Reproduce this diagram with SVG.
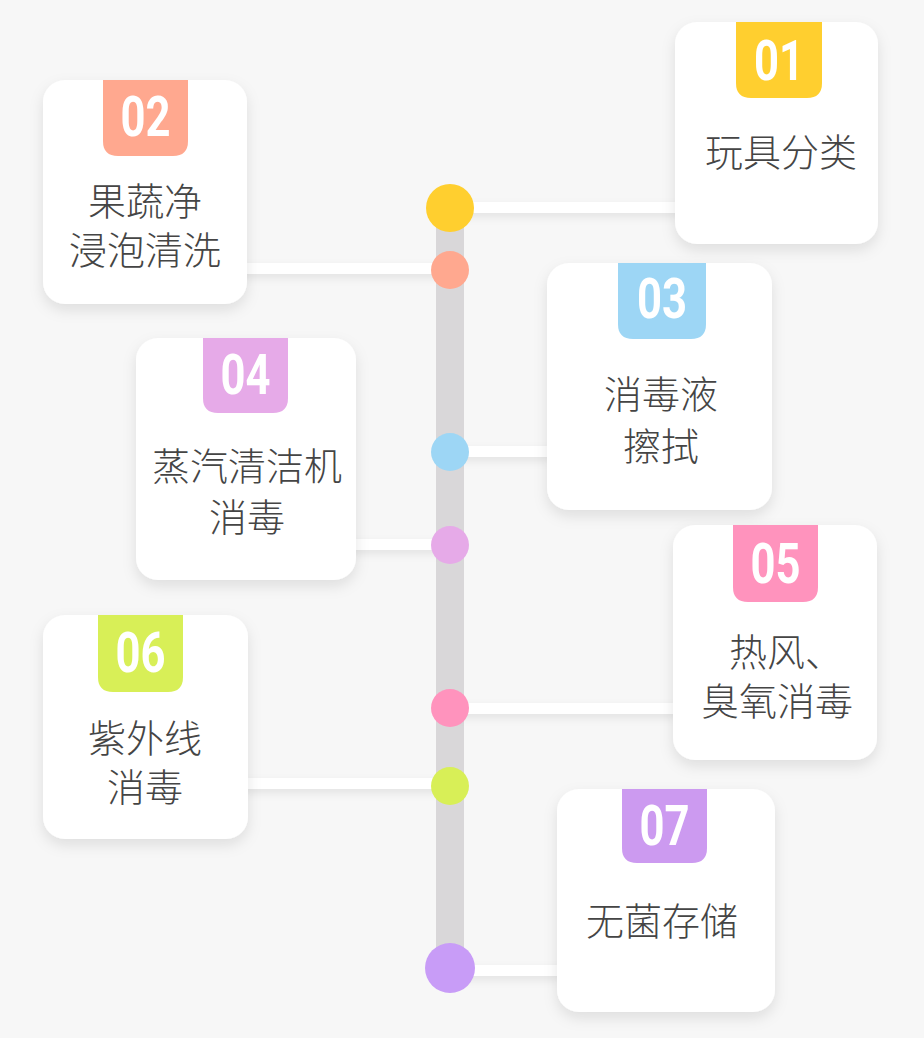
<svg xmlns="http://www.w3.org/2000/svg" width="924" height="1038" viewBox="0 0 924 1038">
<defs>
<filter id="sh" x="-20%" y="-20%" width="140%" height="140%">
<feDropShadow dx="0" dy="6" stdDeviation="7" flood-color="#000" flood-opacity="0.10"/>
</filter>
<filter id="lsh" x="-10%" y="-100%" width="120%" height="400%">
<feDropShadow dx="0" dy="4" stdDeviation="4" flood-color="#000" flood-opacity="0.08"/>
</filter>
<style>
.card{fill:#ffffff;filter:url(#sh)}
.lbl{font-family:"Noto Sans CJK SC","Noto Sans",sans-serif;font-size:38px;font-weight:300;fill:#454545;text-anchor:middle}
.num{font-family:Roboto,"Liberation Sans",sans-serif;font-weight:bold;font-size:56px;fill:#ffffff;text-anchor:middle}
.conn{fill:#ffffff;filter:url(#lsh)}
</style>
</defs>
<rect width="924" height="1038" fill="#f7f7f7"/>
<rect x="436" y="207" width="28" height="761" fill="#d9d7d9"/>
<g id="connectors">
<rect class="conn" x="450" y="202" width="230" height="11"/>
<rect class="conn" x="240" y="263" width="210" height="11"/>
<rect class="conn" x="450" y="446" width="102" height="11"/>
<rect class="conn" x="350" y="539" width="100" height="11"/>
<rect class="conn" x="450" y="703" width="228" height="11"/>
<rect class="conn" x="242" y="778" width="208" height="11"/>
<rect class="conn" x="450" y="965" width="112" height="11"/>
</g>
<g id="dots">
<circle cx="450" cy="208" r="24" fill="#ffcf2f"/>
<circle cx="450" cy="270" r="19" fill="#ffa88f"/>
<circle cx="450" cy="452" r="19" fill="#9dd6f5"/>
<circle cx="450" cy="545" r="19" fill="#e6aae8"/>
<circle cx="450" cy="708" r="19" fill="#ff93bd"/>
<circle cx="450" cy="786" r="19" fill="#d8ef57"/>
<circle cx="450" cy="968" r="25" fill="#c89cf7"/>
</g>
<g id="node01">
<rect class="card" x="675" y="22" width="203" height="222" rx="22"/>
<path d="M736 22 H822 V83 Q822 98 807 98 H751 Q736 98 736 83 Z" fill="#ffcf2f"/>
<text class="num" x="779" y="80" textLength="50" lengthAdjust="spacingAndGlyphs">01</text>
<text class="lbl" x="781" y="166">玩具分类</text>
</g>
<g id="node02">
<rect class="card" x="43" y="80" width="204" height="224" rx="22"/>
<path d="M103 80 H188 V141 Q188 156 173 156 H118 Q103 156 103 141 Z" fill="#ffa88f"/>
<text class="num" x="145.5" y="136" textLength="50" lengthAdjust="spacingAndGlyphs">02</text>
<text class="lbl" x="145" y="215">果蔬净</text>
<text class="lbl" x="145" y="264">浸泡清洗</text>
</g>
<g id="node03">
<rect class="card" x="547" y="263" width="225" height="247" rx="22"/>
<path d="M618 263 H706 V324 Q706 339 691 339 H633 Q618 339 618 324 Z" fill="#9dd6f5"/>
<text class="num" x="662" y="318" textLength="50" lengthAdjust="spacingAndGlyphs">03</text>
<text class="lbl" x="661" y="408">消毒液</text>
<text class="lbl" x="661" y="460">擦拭</text>
</g>
<g id="node04">
<rect class="card" x="136" y="338" width="220" height="242" rx="22"/>
<path d="M203 338 H288 V398 Q288 413 273 413 H218 Q203 413 203 398 Z" fill="#e6aae8"/>
<text class="num" x="245.5" y="394" textLength="50" lengthAdjust="spacingAndGlyphs">04</text>
<text class="lbl" x="247" y="480">蒸汽清洁机</text>
<text class="lbl" x="247" y="531">消毒</text>
</g>
<g id="node05">
<rect class="card" x="673" y="525" width="204" height="235" rx="22"/>
<path d="M733 525 H818 V587 Q818 602 803 602 H748 Q733 602 733 587 Z" fill="#ff93bd"/>
<text class="num" x="775.5" y="583" textLength="50" lengthAdjust="spacingAndGlyphs">05</text>
<text class="lbl" x="786" y="666">热风、</text>
<text class="lbl" x="777" y="715">臭氧消毒</text>
</g>
<g id="node06">
<rect class="card" x="43" y="615" width="205" height="224" rx="22"/>
<path d="M98 615 H183 V677 Q183 692 168 692 H113 Q98 692 98 677 Z" fill="#d8ef57"/>
<text class="num" x="140.5" y="672" textLength="50" lengthAdjust="spacingAndGlyphs">06</text>
<text class="lbl" x="145" y="752">紫外线</text>
<text class="lbl" x="145" y="801">消毒</text>
</g>
<g id="node07">
<rect class="card" x="557" y="789" width="218" height="223" rx="22"/>
<path d="M622 789 H707 V848 Q707 863 692 863 H637 Q622 863 622 848 Z" fill="#cc9af0"/>
<text class="num" x="664.5" y="845" textLength="50" lengthAdjust="spacingAndGlyphs">07</text>
<text class="lbl" x="662" y="935">无菌存储</text>
</g>
</svg>
